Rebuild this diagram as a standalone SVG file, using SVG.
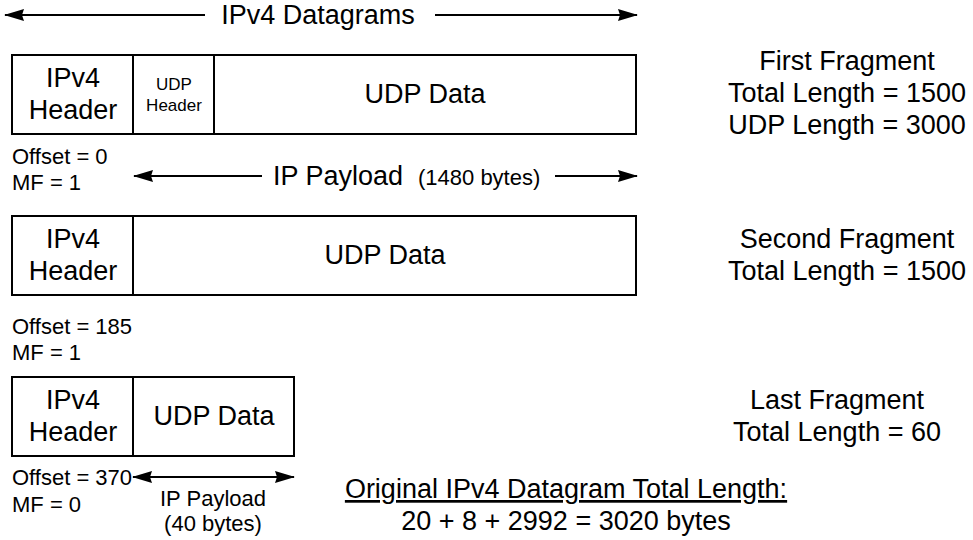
<svg xmlns="http://www.w3.org/2000/svg" width="973" height="540" viewBox="0 0 973 540">
<defs>
<style>
text{font-family:"Liberation Sans",Arial,sans-serif;fill:#000}
.b{font-size:27px}
.m{font-size:22px}
.s{font-size:17px}
.c{text-anchor:middle}
.box{fill:#fff;stroke:#000;stroke-width:2}
.ln{stroke:#000;stroke-width:2;fill:none}
</style>
<marker id="ah" viewBox="0 0 20 12" refX="19" refY="6" markerWidth="20" markerHeight="12" markerUnits="userSpaceOnUse" orient="auto-start-reverse">
<path d="M0,0 L20,6 L0,12 L2,6 z" fill="#000"/>
</marker>
</defs>
<rect width="973" height="540" fill="#fff"/>
<g id="connectors">
<line class="ln" x1="205" y1="15" x2="5" y2="15" marker-end="url(#ah)"/>
<line class="ln" x1="435" y1="15" x2="637" y2="15" marker-end="url(#ah)"/>
<line class="ln" x1="262" y1="176" x2="134" y2="176" marker-end="url(#ah)"/>
<line class="ln" x1="555" y1="176" x2="637" y2="176" marker-end="url(#ah)"/>
<line class="ln" x1="133" y1="477" x2="294" y2="477" marker-start="url(#ah)" marker-end="url(#ah)"/>
</g>
<text class="b c" x="318" y="24">IPv4 Datagrams</text>
<g id="frag1">
<rect class="box" x="12" y="55" width="624" height="79"/>
<line class="ln" x1="133" y1="55" x2="133" y2="134"/>
<line class="ln" x1="214" y1="55" x2="214" y2="134"/>
<text class="b c" x="73" y="87">IPv4</text>
<text class="b c" x="73" y="119">Header</text>
<text class="s c" x="174" y="90">UDP</text>
<text class="s c" x="174" y="111">Header</text>
<text class="b c" x="425" y="103">UDP Data</text>
</g>
<text class="m" x="12" y="164">Offset = 0</text>
<text class="m" x="12" y="190">MF = 1</text>
<text class="b" x="273" y="185">IP Payload</text>
<text class="m" x="418" y="185">(1480 bytes)</text>
<g id="frag2">
<rect class="box" x="12" y="216" width="624" height="79"/>
<line class="ln" x1="133" y1="216" x2="133" y2="295"/>
<text class="b c" x="73" y="248">IPv4</text>
<text class="b c" x="73" y="280">Header</text>
<text class="b c" x="385" y="264">UDP Data</text>
</g>
<text class="m" x="12" y="334">Offset = 185</text>
<text class="m" x="12" y="360">MF = 1</text>
<g id="frag3">
<rect class="box" x="12" y="377" width="282" height="79"/>
<line class="ln" x1="133" y1="377" x2="133" y2="456"/>
<text class="b c" x="73" y="409">IPv4</text>
<text class="b c" x="73" y="441">Header</text>
<text class="b c" x="214" y="425">UDP Data</text>
</g>
<text class="m" x="12" y="485">Offset = 370</text>
<text class="m" x="12" y="512">MF = 0</text>
<text class="m c" x="213" y="506">IP Payload</text>
<text class="m c" x="213" y="531">(40 bytes)</text>
<text class="b c" x="847" y="70">First Fragment</text>
<text class="b c" x="847" y="102">Total Length = 1500</text>
<text class="b c" x="847" y="134">UDP Length = 3000</text>
<text class="b c" x="847" y="248">Second Fragment</text>
<text class="b c" x="847" y="280">Total Length = 1500</text>
<text class="b c" x="837" y="409">Last Fragment</text>
<text class="b c" x="837" y="441">Total Length = 60</text>
<text class="b c" x="566" y="498" text-decoration="underline">Original IPv4 Datagram Total Length:</text>
<text class="b c" x="566" y="530">20 + 8 + 2992 = 3020 bytes</text>
</svg>
